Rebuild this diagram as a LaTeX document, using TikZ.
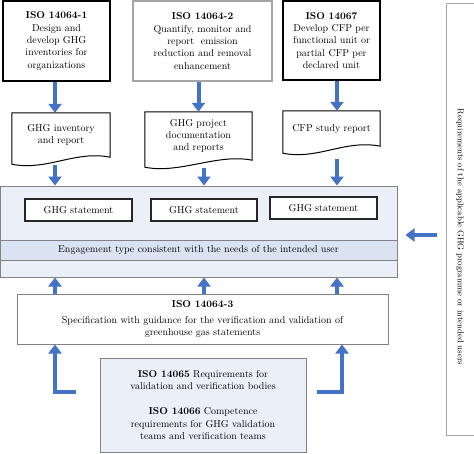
\documentclass[tikz,border=0pt]{standalone}
\usepackage{xcolor}
\usepackage{tikz}
\usetikzlibrary{positioning, arrows.meta}
\definecolor{flowblue}{RGB}{68,114,196}
\definecolor{panelblue}{RGB}{234,239,248}
\definecolor{bandblue}{RGB}{218,227,242}
\definecolor{edgegray}{RGB}{130,130,130}
\definecolor{lightgray}{RGB}{165,165,165}
\newcommand{\docwave}[1]{\draw[line width=1pt] (#1.north west) -- (#1.north east) -- (#1.south east) .. controls +(-35,-7) and +(35,7) .. ([yshift=-7pt]#1.south west) -- cycle;}

\begin{document}
\begin{tikzpicture}[x=1pt,y=-1pt]
	\tikzstyle{txt}=[font=\fontsize{10}{12.4}\selectfont,align=center,inner sep=0pt]
	\tikzstyle{isobox}=[txt,draw=black,line width=1.6pt,fill=white]
	\tikzstyle{docbox}=[txt]
	\tikzstyle{stmt}=[txt,draw=black!85,line width=1.1pt,fill=white,minimum width=107pt,minimum height=22pt]
	\tikzstyle{graybox}=[txt,draw=edgegray,line width=1pt]
	\tikzstyle{flow}=[draw=flowblue,line width=4pt,-{Triangle[width=13pt,length=9pt]}]
	\useasboundingbox (0,0) rectangle (474,453);
	\coordinate (c1) at (55,0);
	\coordinate (c3) at (337,0);
	\coordinate (c4) at (342,0);
	\node[isobox,minimum width=107pt,minimum height=80pt](iso1) at (56.5,41) {\textbf{ISO 14064-1}\\Design and\\develop GHG\\inventories for\\organizations};
	\node[isobox,draw=lightgray,line width=1.4pt,minimum width=139pt,minimum height=80pt](iso2) at (202.5,41) {\textbf{ISO 14064-2}\\Quantify, monitor and\\report\ \ emission\\reduction and removal\\enhancement};
	\node[isobox,minimum width=97pt,minimum height=79pt](iso7) at (331.5,40.5) {\textbf{ISO 14067}\\Develop CFP per\\functional unit or\\partial CFP per\\declared unit};
	\node[docbox,minimum width=98pt,minimum height=44pt](doc1) at (61,135) {GHG inventory\\and report};
	\node[docbox,minimum width=107pt,minimum height=48pt](doc2) at (198.5,136) {GHG project\\documentation\\and reports};
	\node[docbox,minimum width=97pt,minimum height=35pt](doc3) at (331.5,128.5) {CFP study report};
	\docwave{doc1}
	\docwave{doc2}
	\docwave{doc3}
	\node[graybox,fill=panelblue,minimum width=397pt,minimum height=91pt](panel) at (198.5,231.5) {};
	\node[graybox,fill=bandblue,minimum width=397pt,minimum height=20pt](band) at (198.5,250) {Engagement type consistent with the needs of the intended user};
	\node[stmt](s1) at (78.5,210) {GHG statement};
	\node[stmt,minimum width=106pt](s2) at (204,210) {GHG statement};
	\node[stmt](s3) at (323.5,208) {GHG statement};
	\node[graybox,fill=white,minimum width=371pt,minimum height=50pt](iso3) at (202.5,319) {\textbf{ISO 14064-3}\\[3.6pt]Specification with guidance for the verification and validation of\\greenhouse gas statements};
	\node[graybox,fill=panelblue,minimum width=206pt,minimum height=94pt](iso5) at (203,405) {\textbf{ISO 14065} Requirements for\\validation and verification bodies\\[12.6pt]\textbf{ISO 14066} Competence\\requirements for GHG validation\\teams and verification teams};
	\node[graybox,draw=lightgray,minimum width=28pt,minimum height=432pt](req) at (460,219) {};
	\node[txt,rotate=-90,font=\fontsize{8.5}{10}\selectfont](reqtext) at (460,237) {Requirements of the applicable GHG programme or intended users};
	\coordinate (lstart) at (76,392);
	\coordinate (rstart) at (317,392);
	\draw[flow](iso1.south -| c1) -- (doc1.north -| c1);
	\draw[flow](iso2.south -| doc2.north) -- (doc2.north);
	\draw[flow](iso7.south -| c3) -- (doc3.north -| c3);
	\draw[flow,shorten <=8pt](doc1.south -| c1) -- (panel.north -| c1);
	\draw[flow,shorten <=8pt](doc2.south -| s2.north) -- (panel.north -| s2.north);
	\draw[flow,shorten <=13pt](doc3.south -| c3) -- (panel.north -| c3);
	\draw[flow](iso3.north -| c1) -- (panel.south -| c1);
	\draw[flow](iso3.north -| s2.north) -- (panel.south -| s2.north);
	\draw[flow](iso3.north -| c3) -- (panel.south -| c3);
	\draw[flow,shorten <=9pt,shorten >=8pt]([yshift=-3.5pt]panel.east -| req.west) -- ([yshift=-3.5pt]panel.east);
	\draw[flow,line join=miter](lstart) -| (iso3.south -| c1);
	\draw[flow,line join=miter](rstart) -| (iso3.south -| c4);
\end{tikzpicture}
\end{document}
